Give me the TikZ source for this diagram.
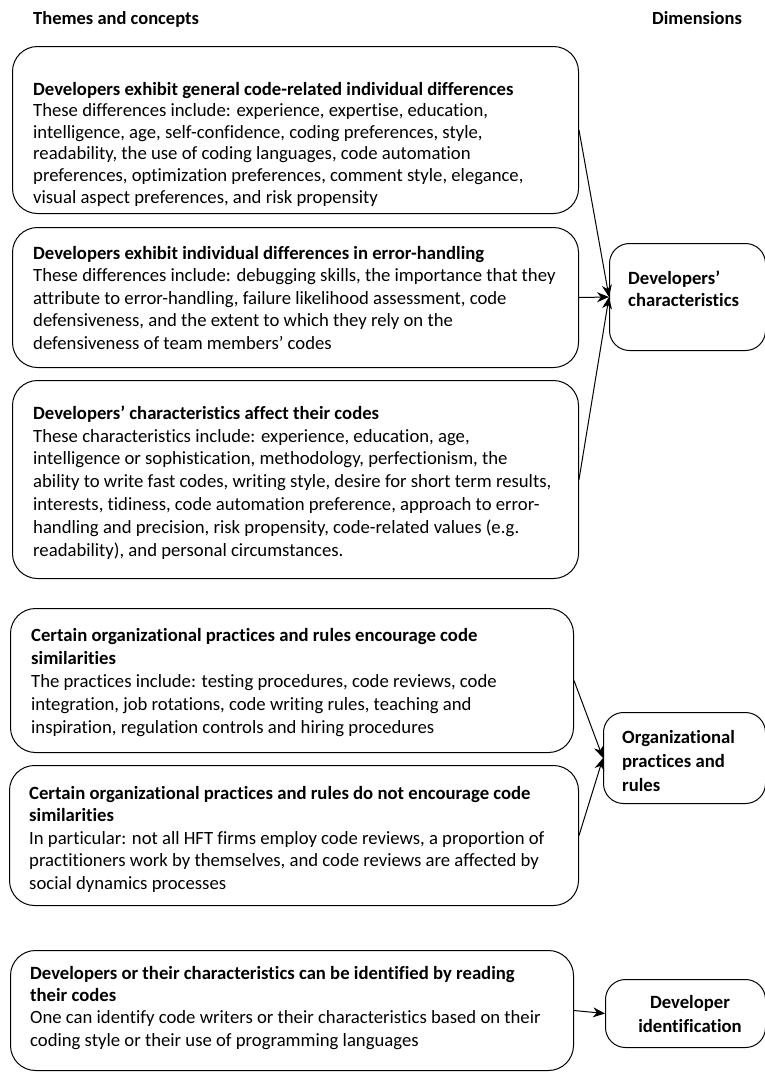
\documentclass[tikz,border=0pt]{standalone}
\usepackage{fontspec}
\setmainfont[Ligatures=NoCommon]{Carlito}
\usetikzlibrary{arrows.meta,positioning}

\tikzset{
  theme/.style={draw, rounded corners=25pt, line width=1pt, anchor=north west, inner sep=0pt},
  dimension/.style={draw, rounded corners=20pt, line width=1pt, anchor=north west, inner sep=0pt},
  body/.style={anchor=base west, align=left, inner sep=0pt, font=\fontsize{18.7}{22.5}\selectfont},
  dimtext/.style={body, font=\fontsize{18.7}{23}\selectfont\bfseries},
  head/.style={anchor=base west, inner sep=0pt, font=\fontsize{18.5}{22}\selectfont\bfseries},
  link/.style={-{Stealth[length=12pt,width=10pt]}, line width=1pt},
}

\begin{document}
\begin{tikzpicture}[x=1pt, y=-1pt]
    \useasboundingbox (0,0) rectangle (764,1072);
    % column titles
    \node [head] (themes) at (33,24) {Themes and concepts};
    \node [head] (dims) at (652,24) {Dimensions};
    % theme boxes
    \node [theme, minimum width=566, minimum height=167] (gen) at (12,46) {};
    \node [theme, minimum width=566, minimum height=140] (err) at (12,227) {};
    \node [theme, minimum width=566, minimum height=198] (affect) at (12,380) {};
    \node [theme, minimum width=563, minimum height=144] (enc) at (10,608) {};
    \node [theme, minimum width=569, minimum height=140] (notenc) at (9,765) {};
    \node [theme, minimum width=563, minimum height=120] (ident) at (10,950) {};
    % texts hang on the baseline of their last line
    \node [body, font=\fontsize{18.7}{21.6}\selectfont] (gen-t) at ([shift={(21,157)}]gen.north west)
      {\textbf{Developers exhibit general code-related individual differences}\\
       These differences include: experience, expertise, education,\\
       intelligence, age, self-confidence, coding preferences, style,\\
       readability, the use of coding languages, code automation\\
       preferences, optimization preferences, comment style, elegance,\\
       visual aspect preferences, and risk propensity};
    \node [body] (err-t) at ([shift={(21,122)}]err.north west)
      {\textbf{Developers exhibit individual differences in error-handling}\\
       These differences include: debugging skills, the importance that they\\
       attribute to error-handling, failure likelihood assessment, code\\
       defensiveness, and the extent to which they rely on the\\
       defensiveness of team members’ codes};
    \node [body, font=\fontsize{18.7}{22.8}\selectfont] (affect-t) at ([shift={(21,176)}]affect.north west)
      {\textbf{Developers’ characteristics affect their codes}\\
       These characteristics include: experience, education, age,\\
       intelligence or sophistication, methodology, perfectionism, the\\
       ability to write fast codes, writing style, desire for short term results,\\
       interests, tidiness, code automation preference, approach to error-\\
       handling and precision, risk propensity, code-related values (e.g.\\
       readability), and personal circumstances.};
    \node [body, font=\fontsize{18.7}{23}\selectfont] (enc-t) at ([shift={(21,125)}]enc.north west)
      {\textbf{Certain organizational practices and rules encourage code}\\
       \textbf{similarities}\\
       The practices include: testing procedures, code reviews, code\\
       integration, job rotations, code writing rules, teaching and\\
       inspiration, regulation controls and hiring procedures};
    \node [body] (notenc-t) at ([shift={(20,124)}]notenc.north west)
      {\textbf{Certain organizational practices and rules do not encourage code}\\
       \textbf{similarities}\\
       In particular: not all HFT firms employ code reviews, a proportion of\\
       practitioners work by themselves, and code reviews are affected by\\
       social dynamics processes};
    \node [body, font=\fontsize{18.7}{22.3}\selectfont] (ident-t) at ([shift={(20,96)}]ident.north west)
      {\textbf{Developers or their characteristics can be identified by reading}\\
       \textbf{their codes}\\
       One can identify code writers or their characteristics based on their\\
       coding style or their use of programming languages};
    % dimension boxes
    \node [dimension, minimum width=156, minimum height=107] (devchar) at (609,243) {};
    \node [dimension, minimum width=162, minimum height=91] (orgprac) at (603,712) {};
    \node [dimension, minimum width=160, minimum height=68] (devid) at (605,979) {};
    \node [dimtext, font=\fontsize{18.7}{22}\selectfont\bfseries] (devchar-t) at ([shift={(19,63)}]devchar.north west)
      {Developers’\\ characteristics};
    \node [dimtext, font=\fontsize{18.7}{24}\selectfont\bfseries] (orgprac-t) at ([shift={(19,79)}]orgprac.north west)
      {Organizational\\ practices and\\ rules};
    \node [dimtext, anchor=base, align=center, font=\fontsize{18.7}{24}\selectfont\bfseries] (devid-t) at ([shift={(85,53)}]devid.north west)
      {Developer\\ identification};
    % links
    \draw [link] (gen.east) -- (devchar.west);
    \draw [link] (err.east) -- (devchar.west);
    \draw [link] (affect.east) -- (devchar.west);
    \draw [link] (enc.east) -- (orgprac.west);
    \draw [link] (notenc.east) -- (orgprac.west);
    \draw [link] (ident.east) -- (devid.west);
\end{tikzpicture}
\end{document}
